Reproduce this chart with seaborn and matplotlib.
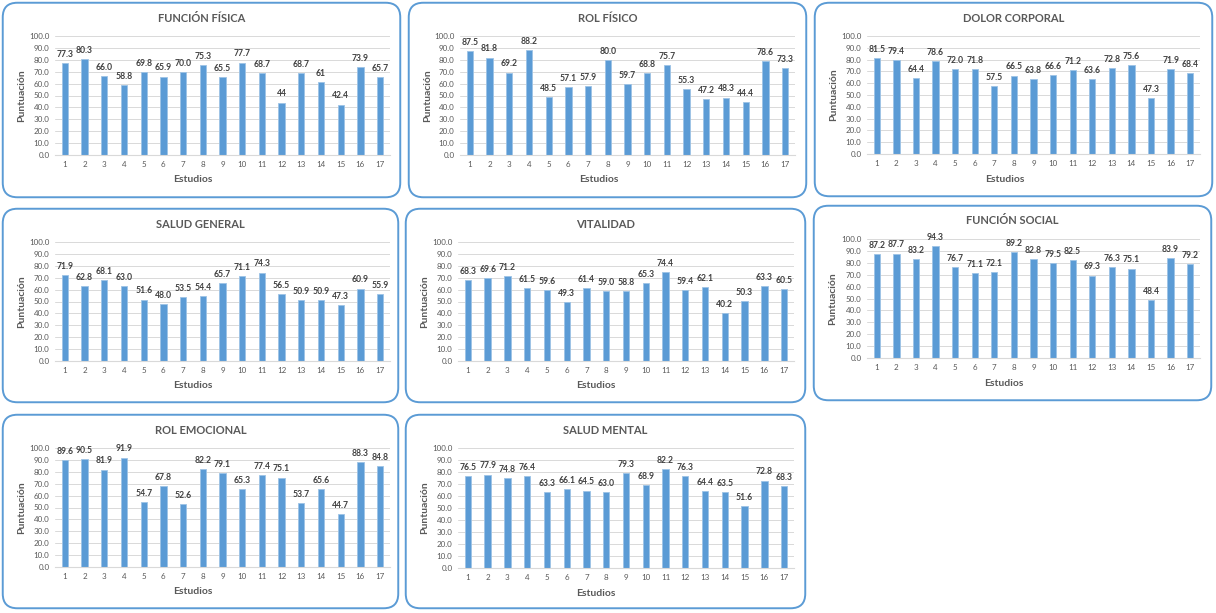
import matplotlib
matplotlib.use("Agg")
import matplotlib.pyplot as plt
import seaborn as sns
import pandas as pd
from matplotlib.patches import FancyBboxPatch

estudios = [str(i) for i in range(1, 18)]

funcion_fisica = [77.3, 80.3, 66.0, 58.8, 69.8, 65.9, 70.0, 75.3, 65.5, 77.7, 68.7, 44, 68.7, 61, 42.4, 73.9, 65.7]
funcion_fisica_lbl = ["77.3", "80.3", "66.0", "58.8", "69.8", "65.9", "70.0", "75.3", "65.5", "77.7", "68.7", "44", "68.7", "61", "42.4", "73.9", "65.7"]
rol_fisico = [87.5, 81.8, 69.2, 88.2, 48.5, 57.1, 57.9, 80.0, 59.7, 68.8, 75.7, 55.3, 47.2, 48.3, 44.4, 78.6, 73.3]
dolor_corporal = [81.5, 79.4, 64.4, 78.6, 72.0, 71.8, 57.5, 66.5, 63.8, 66.6, 71.2, 63.6, 72.8, 75.6, 47.3, 71.9, 68.4]
salud_general = [71.9, 62.8, 68.1, 63.0, 51.6, 48.0, 53.5, 54.4, 65.7, 71.1, 74.3, 56.5, 50.9, 50.9, 47.3, 60.9, 55.9]
vitalidad = [68.3, 69.6, 71.2, 61.5, 59.6, 49.3, 61.4, 59.0, 58.8, 65.3, 74.4, 59.4, 62.1, 40.2, 50.3, 63.3, 60.5]
funcion_social = [87.2, 87.7, 83.2, 94.3, 76.7, 71.1, 72.1, 89.2, 82.8, 79.5, 82.5, 69.3, 76.3, 75.1, 48.4, 83.9, 79.2]
rol_emocional = [89.6, 90.5, 81.9, 91.9, 54.7, 67.8, 52.6, 82.2, 79.1, 65.3, 77.4, 75.1, 53.7, 65.6, 44.7, 88.3, 84.8]
salud_mental = [76.5, 77.9, 74.8, 76.4, 63.3, 66.1, 64.5, 63.0, 79.3, 68.9, 82.2, 76.3, 64.4, 63.5, 51.6, 72.8, 68.3]

titulos = ["FUNCIÓN FÍSICA", "ROL FÍSICO", "DOLOR CORPORAL", "SALUD GENERAL",
           "VITALIDAD", "FUNCIÓN SOCIAL", "ROL EMOCIONAL", "SALUD MENTAL"]
series = [funcion_fisica, rol_fisico, dolor_corporal, salud_general,
          vitalidad, funcion_social, rol_emocional, salud_mental]
etiquetas = [funcion_fisica_lbl] + [[f"{v:.1f}" for v in s] for s in series[1:]]

# pixel boxes: frame (l, t, r, b) and plot area (l, t, r, b)
marcos = [(3, 3, 400, 197), (409, 3, 806, 197), (815, 3, 1212, 196),
          (3, 209, 398, 402), (406, 209, 805, 402), (814, 206, 1211, 400),
          (3, 415, 398, 608), (406, 415, 805, 608)]
areas = [(55, 36, 390, 155), (460, 36, 795, 155), (867, 36, 1200, 154),
         (55, 242, 390, 361), (458, 242, 794, 361), (867, 239, 1200, 358),
         (55, 448, 390, 567), (458, 448, 794, 568)]

W, H = 1216, 613
AZUL = "#5B9BD5"
GRIS = "#595959"

sns.set_style("white")
plt.rcParams["font.family"] = ["Lato", "DejaVu Sans"]

fig = plt.figure(figsize=(W / 100, H / 100), dpi=100)


def fx(x):
    return x / W


def fy(y):
    return 1 - y / H


for titulo, vals, lbls, marco, area in zip(titulos, series, etiquetas, marcos, areas):
    l, t, r, b = marco
    caja = FancyBboxPatch((fx(l + 4), fy(b - 4)), fx(r - l - 8), (b - t - 8) / H,
                          boxstyle="round,pad=0.0035,rounding_size=0.012",
                          transform=fig.transFigure, facecolor="white",
                          edgecolor=AZUL, linewidth=1.4, mutation_aspect=W / H,
                          zorder=0)
    fig.patches.append(caja)

    al, at, ar, ab = area
    ax = fig.add_axes([fx(al), fy(ab), fx(ar - al), (ab - at) / H])
    ax.set_zorder(2)
    df = pd.DataFrame({"Estudios": estudios, "Puntuacion": vals})
    sns.barplot(data=df, x="Estudios", y="Puntuacion", color=AZUL,
                saturation=1, width=0.32, linewidth=0.6, edgecolor="#9DC3E6", ax=ax)
    ax.set_ylim(0, 100)
    ax.set_yticks(range(0, 101, 10))
    ax.set_yticklabels([f"{v:.1f}" for v in range(0, 101, 10)])
    ax.yaxis.grid(True, color="#D9D9D9", linewidth=0.7)
    ax.set_axisbelow(True)
    for s in ["top", "right", "left"]:
        ax.spines[s].set_visible(False)
    ax.spines["bottom"].set_color("#D9D9D9")
    ax.tick_params(axis="both", length=0, labelsize=5.8, labelcolor=GRIS, pad=4)
    ax.set_xlabel("")
    ax.set_ylabel("")
    ax.patch.set_alpha(0)
    ax.bar_label(ax.containers[0], labels=lbls, padding=3, fontsize=6.2,
                 fontweight="bold", color="#404040")

    fig.text(fx((l + r) / 2), fy(t + 15), titulo, ha="center", va="center",
             fontsize=8, fontweight="bold", color=GRIS, zorder=3)
    fig.text(fx(l + 190), fy(ab + 25), "Estudios", ha="center", va="center",
             fontsize=7.5, fontweight="bold", color=GRIS, zorder=3)
    fig.text(fx(l + 19), fy((at + ab) / 2), "Puntuación", ha="center", va="center",
             rotation=90, fontsize=7.5, fontweight="bold", color=GRIS, zorder=3)

fig.savefig("out.png", dpi=100)
